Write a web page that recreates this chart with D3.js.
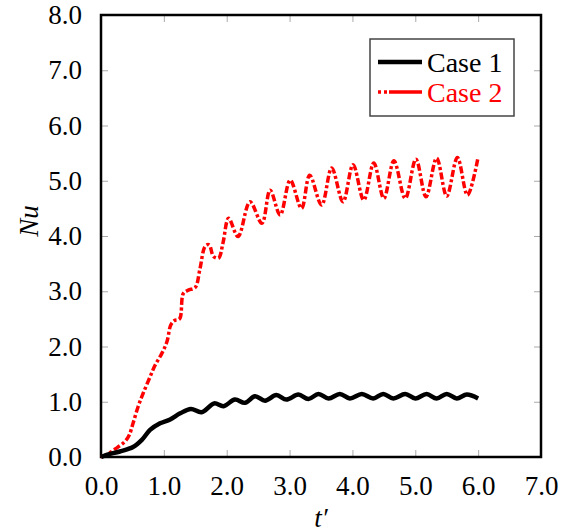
<!DOCTYPE html>
<html lang="en">
  <head>
    <meta charset="utf-8" />
    <title>Nu vs t'</title>
    <script src="https://d3js.org/d3.v7.min.js"></script>
    <style>
      body { margin: 0; background: #fff; }
    </style>
  </head>
  <body>
    <div id="chart"></div>
    <script>
      // Case 1 (black, solid)
      var case1T = [0.0, 0.09, 0.30, 0.51, 0.65, 0.78, 0.94, 1.10, 1.26, 1.43, 1.60, 1.80, 1.95,
        2.13, 2.29, 2.45, 2.61, 2.79, 2.95, 3.14, 3.30, 3.46, 3.62, 3.80, 3.96, 4.15, 4.33,
        4.49, 4.65, 4.84, 5.00, 5.18, 5.34, 5.50, 5.66, 5.82, 6.00];
      var case1Nu = [0.0, 0.04, 0.10, 0.18, 0.31, 0.49, 0.61, 0.68, 0.79, 0.87, 0.81, 0.97, 0.92,
        1.04, 0.98, 1.10, 1.02, 1.12, 1.04, 1.13, 1.05, 1.14, 1.06, 1.14, 1.06, 1.14, 1.06,
        1.14, 1.06, 1.14, 1.06, 1.14, 1.06, 1.14, 1.06, 1.13, 1.06];

      // Case 2 (red, dash-dot)
      var case2T = [0.0, 0.10, 0.22, 0.38, 0.45, 0.51, 0.59, 0.67, 0.78, 0.86, 0.97, 1.05, 1.11,
        1.17, 1.25, 1.31, 1.39, 1.50, 1.57, 1.66, 1.72, 1.79, 1.87, 1.94, 2.03, 2.18, 2.37,
        2.56, 2.69, 2.85, 3.01, 3.19, 3.32, 3.51, 3.67, 3.85, 4.01, 4.18, 4.34, 4.50, 4.66,
        4.84, 5.01, 5.17, 5.34, 5.50, 5.67, 5.83, 6.00];
      var case2Nu = [0.0, 0.05, 0.14, 0.28, 0.40, 0.61, 0.91, 1.15, 1.45, 1.66, 1.88, 2.09, 2.39,
        2.47, 2.50, 2.96, 3.02, 3.07, 3.38, 3.82, 3.84, 3.63, 3.60, 3.87, 4.32, 3.99, 4.62,
        4.23, 4.83, 4.38, 5.01, 4.50, 5.10, 4.56, 5.23, 4.62, 5.29, 4.65, 5.32, 4.68, 5.36,
        4.68, 5.39, 4.71, 5.41, 4.72, 5.42, 4.74, 5.43];

      var xTicks = [0, 1, 2, 3, 4, 5, 6, 7];
      var yTicks = [0, 1, 2, 3, 4, 5, 6, 7, 8];
      var seriesNames = ["Case 1", "Case 2"];

      var serif = "'Liberation Serif'";

      var margin = { top: 15, right: 20, bottom: 75, left: 101 };
      var width = 561 - margin.left - margin.right,
        height = 532 - margin.top - margin.bottom;

      var svg = d3
        .select("#chart")
        .append("svg")
        .attr("width", 561)
        .attr("height", 532)
        .append("g")
        .attr("transform", "translate(" + margin.left + "," + margin.top + ")");

      var x = d3.scaleLinear().domain([0, 7]).range([0, width]);
      var y = d3.scaleLinear().domain([0, 8]).range([height, 0]);

      var fmt = d3.format(".1f");

      // inner ticks on all four sides
      function tickStyle(g) {
        g.attr("font-family", null).attr("font-size", null);
        g.select(".domain").remove();
        g.selectAll(".tick line").attr("stroke", "#aaa").attr("stroke-width", 1);
        g.selectAll(".tick text")
          .style("font-family", serif)
          .style("font-size", "27px")
          .attr("fill", "#000");
      }

      svg.append("g")
        .attr("transform", "translate(0," + height + ")")
        .call(d3.axisBottom(x).tickValues(xTicks).tickFormat(fmt).tickSizeInner(-7).tickPadding(19))
        .call(tickStyle);

      svg.append("g")
        .call(d3.axisTop(x).tickValues(xTicks).tickFormat("").tickSizeInner(-7))
        .call(tickStyle);

      svg.append("g")
        .call(d3.axisLeft(y).tickValues(yTicks).tickFormat(fmt).tickSizeInner(-7).tickPadding(19))
        .call(tickStyle);

      svg.append("g")
        .attr("transform", "translate(" + width + ",0)")
        .call(d3.axisRight(y).tickValues(yTicks).tickFormat("").tickSizeInner(-7))
        .call(tickStyle);

      // frame
      svg.append("rect")
        .attr("width", width)
        .attr("height", height)
        .attr("fill", "none")
        .attr("stroke", "#000")
        .attr("stroke-width", 2.5);

      var line = d3.line()
        .x(function (d) { return x(d[0]); })
        .y(function (d) { return y(d[1]); })
        .curve(d3.curveCatmullRom.alpha(0.5));

      var case1 = case1T.map(function (t, i) { return [t, case1Nu[i]]; });
      var case2 = case2T.map(function (t, i) { return [t, case2Nu[i]]; });

      svg.append("path")
        .datum(case2)
        .attr("fill", "none")
        .attr("stroke", "#ff0000")
        .attr("stroke-width", 3.5)
        .attr("stroke-dasharray", "7,2.5,3,2.5")
        .attr("d", line);

      svg.append("path")
        .datum(case1)
        .attr("fill", "none")
        .attr("stroke", "#000")
        .attr("stroke-width", 4.5)
        .attr("stroke-linejoin", "round")
        .attr("d", line);

      // axis titles
      svg.append("text")
        .attr("x", x(3.5))
        .attr("y", height + 70)
        .attr("text-anchor", "middle")
        .style("font-family", serif)
        .style("font-size", "27px")
        .style("font-style", "italic")
        .text("t\u2032");

      svg.append("text")
        .attr("transform", "translate(" + (-63) + "," + (height / 2 - 15) + ") rotate(-90)")
        .attr("text-anchor", "middle")
        .style("font-family", serif)
        .style("font-size", "27px")
        .style("font-style", "italic")
        .text("Nu");

      // legend
      var legend = svg.append("g").attr("transform", "translate(269,24)");
      legend.append("rect")
        .attr("width", 144)
        .attr("height", 77)
        .attr("fill", "#fff")
        .attr("stroke", "#444")
        .attr("stroke-width", 1.5);

      var legendColors = ["#000", "#ff0000"];
      var legendDash = [null, "3,3,3,2,40"];
      var legendWidth = [4.5, 3.5];

      legend.selectAll(".item")
        .data(seriesNames)
        .enter()
        .append("g")
        .attr("class", "item")
        .attr("transform", function (d, i) { return "translate(0," + (23 + i * 30) + ")"; })
        .each(function (d, i) {
          var g = d3.select(this);
          g.append("line")
            .attr("x1", 8).attr("x2", 52)
            .attr("stroke", legendColors[i])
            .attr("stroke-width", legendWidth[i])
            .attr("stroke-dasharray", legendDash[i]);
          g.append("text")
            .attr("x", 57)
            .attr("dy", "0.35em")
            .style("font-family", serif)
            .style("font-size", "28px")
            .attr("fill", legendColors[i])
            .text(d);
        });
    </script>
  </body>
</html>
